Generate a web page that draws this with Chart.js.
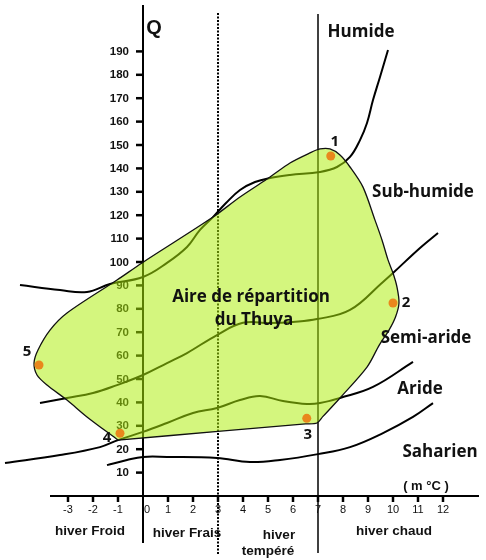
<!DOCTYPE html>
<html>
<head>
<meta charset="utf-8">
<script src="https://cdn.jsdelivr.net/npm/chart.js@4/dist/chart.umd.min.js"></script>
<style>
  html, body { margin: 0; padding: 0; background: #fff; overflow: hidden; }
  #wrap { width: 486px; height: 560px; position: relative; }
</style>
</head>
<body>
<div id="wrap"><canvas id="c"></canvas></div>
<script>
// ---- DATA (m in °C, Q = Emberger quotient) ----
const xTicks = [-3,-2,-1,0,1,2,3,4,5,6,7,8,9,10,11,12];
const yTicks = [10,20,30,40,50,60,70,80,90,100,110,120,130,140,150,160,170,180,190];

// Humide / Sub-humide limit
const curveHumide = [[-4.92,90.2],[-3.32,88.0],[-2.24,87.2],[-1.32,90.6],[0,93.6],[0.96,99.6],[1.76,106.4],[2.28,113.7],[2.8,119.2],[3.32,125.2],[3.88,130.8],[4.48,134.2],[5.08,135.9],[5.88,137.2],[7.08,138.5],[7.76,140.6],[8.28,144.9],[8.68,152.1],[8.96,159.4],[9.2,169.2],[9.48,179.1],[9.8,190.6]];
// Sub-humide / Semi-aride limit
const curveSubHumide = [[-4.12,39.7],[-3.04,41.9],[-2.0,44.0],[-1.04,47.4],[0,51.7],[0.96,56.8],[1.76,61.1],[2.96,68.8],[4.0,74.0],[5.08,73.9],[6.0,74.4],[6.96,75.6],[8.28,79.5],[9.6,91.5],[10.0,95.3],[11.08,106.0],[11.8,112.4]];
// Semi-aride / Aride limit
const curveSemiAride = [[-5.52,14.1],[-3.32,17.5],[-1.72,20.9],[-1.0,23.9],[0,27.4],[0.96,31.2],[2.0,35.5],[2.96,37.6],[3.88,41.0],[4.68,42.7],[5.6,40.6],[6.56,39.3],[7.08,39.7],[7.88,41.9],[9.2,46.6],[10.8,57.3]];
// Aride / Saharien limit
const curveAride = [[-1.44,13.2],[-0.64,15.4],[0,16.7],[0.96,16.7],[2.96,16.2],[4.28,14.5],[5.48,15.4],[7.0,17.9],[8.28,20.9],[9.6,26.9],[10.8,33.8],[11.6,39.7]];

// Aire de répartition du Thuya (closed contour)
const thuyaArea = [[-1.0,23.9],[3.0,27.6],[6.5,30.8],[6.96,31.2],[7.19,33.9],[7.88,41.9],[8.96,55.1],[9.45,64.5],[9.84,70.9],[10.1,76.5],[10.24,82.5],[10.16,89.3],[10.0,95.3],[9.8,100.9],[9.56,109.4],[9.28,117.9],[8.8,132.0],[8.28,140.6],[7.88,145.7],[7.48,148.3],[7.08,148.3],[6.68,146.6],[5.88,142.3],[5.08,136.3],[3.88,127.8],[2.8,119.2],[-0.04,99.6],[-1.04,92.3],[-3.04,78.2],[-3.72,70.9],[-4.2,62.4],[-4.36,56.8],[-4.24,51.7],[-3.84,47.4],[-3.04,41.0],[-2.24,33.8],[-1.0,23.9]];

// Stations
const stationLabels = ['1','2','3','4','5'];
const stations = [[7.51,145.3],[10.0,82.5],[6.55,33.2],[-0.92,26.8],[-4.16,56.0]];

const zoneLabels = ['Humide','Sub-humide','Semi-aride','Aride','Saharien'];
const winterLabels = ['hiver Froid','hiver Frais','hiver\ntempéré','hiver chaud'];

const toXY = a => a.map(p => ({x: p[0], y: p[1]}));

const curveStyle = {showLine: true, pointRadius: 0, borderColor: '#000', borderWidth: 2, tension: 0.4, fill: false, order: 3};

const axesPlugin = {
  id: 'emberger',
  beforeDatasetsDraw(chart) {
    const {ctx, scales: {x, y}} = chart;
    const X = v => x.getPixelForValue(v), Y = v => y.getPixelForValue(v);
    const seg = (x1, y1, x2, y2) => { ctx.beginPath(); ctx.moveTo(x1, y1); ctx.lineTo(x2, y2); ctx.stroke(); };
    ctx.save();
    ctx.strokeStyle = '#000';
    ctx.fillStyle = '#111';
    // x axis
    ctx.lineWidth = 2;
    seg(X(-3.72), Y(0), X(13.44), Y(0));
    // y axis (m = 0)
    seg(X(0), Y(209.8), X(0), Y(-20.1));
    // m = 7
    ctx.lineWidth = 1.5;
    seg(X(7), Y(206), X(7), Y(-24.4));
    // m = 3 dotted
    ctx.lineWidth = 2;
    ctx.setLineDash([2, 1.5]);
    seg(X(3), Y(206.4), X(3), Y(-25.2));
    ctx.setLineDash([]);
    // y ticks
    ctx.font = 'bold 11.5px "Liberation Sans", Arial, sans-serif';
    ctx.textAlign = 'right';
    ctx.textBaseline = 'middle';
    ctx.lineWidth = 2.5;
    yTicks.forEach(v => {
      seg(X(0) - 7, Y(v), X(0) - 1, Y(v));
      ctx.fillText(String(v), X(0) - 14, Y(v) + 0.5);
    });
    // x ticks
    ctx.font = '11px "Liberation Sans", Arial, sans-serif';
    ctx.textAlign = 'center';
    ctx.lineWidth = 2.5;
    xTicks.forEach(v => {
      if (v !== 0) seg(X(v), Y(0) + 1, X(v), Y(0) + 6);
      ctx.fillText(String(v), X(v) + (v === 0 ? 4 : 0), Y(0) + 14);
    });
    // axis letter
    ctx.font = 'bold 20px "Liberation Sans", Arial, sans-serif';
    ctx.fillText('Q', X(0.44), Y(199.6));
    // winter labels
    ctx.font = 'bold 13.5px "Liberation Sans", Arial, sans-serif';
    ctx.fillText(winterLabels[0], X(-2.12), Y(-15));
    ctx.fillText(winterLabels[1], X(1.76), Y(-15.8));
    const tp = winterLabels[2].split('\n');
    ctx.fillText(tp[0], X(5.44), Y(-16.7));
    ctx.fillText(tp[1], X(5.0), Y(-23.5));
    ctx.fillText(winterLabels[3], X(10.04), Y(-15));
    ctx.font = 'bold 13px "Liberation Sans", Arial, sans-serif';
    ctx.fillText('( m °C )', X(11.32), Y(4.3));
    ctx.restore();
  },
  afterDatasetsDraw(chart) {
    const {ctx, scales: {x, y}} = chart;
    const X = v => x.getPixelForValue(v), Y = v => y.getPixelForValue(v);
    ctx.save();
    ctx.fillStyle = '#111';
    ctx.textAlign = 'center';
    ctx.textBaseline = 'middle';
    ctx.font = 'bold 17px "Open Sans", sans-serif';
    const zonePos = [[8.72,198.3],[11.2,129.9],[11.32,67.5],[11.08,45.7],[11.88,18.8]];
    zoneLabels.forEach((t, i) => ctx.fillText(t, X(zonePos[i][0]), Y(zonePos[i][1])));
    ctx.fillText('Aire de répartition', X(4.32), Y(85));
    ctx.fillText('du Thuya', X(4.44), Y(75.2));
    ctx.font = 'bold 15px "Open Sans", sans-serif';
    const off = [[4,-14],[13,0],[1,16],[-13,4],[-12,-13]];
    stations.forEach((p, i) => ctx.fillText(stationLabels[i], X(p[0]) + off[i][0], Y(p[1]) + off[i][1]));
    ctx.restore();
  }
};

new Chart(document.getElementById('c'), {
  type: 'scatter',
  data: {
    datasets: [
      {data: toXY(stations), pointRadius: 4.5, pointBackgroundColor: '#e9871c', pointBorderWidth: 0, showLine: false, order: 0},
      {data: toXY(thuyaArea), showLine: true, pointRadius: 0, borderColor: '#111', borderWidth: 1.3, tension: 0.3,
       fill: 'shape', backgroundColor: 'rgba(172,238,8,0.52)', order: 1},
      Object.assign({data: toXY(curveHumide)}, curveStyle),
      Object.assign({data: toXY(curveSubHumide)}, curveStyle),
      Object.assign({data: toXY(curveSemiAride)}, curveStyle),
      Object.assign({data: toXY(curveAride)}, curveStyle)
    ]
  },
  options: {
    responsive: true,
    maintainAspectRatio: false,
    animation: false,
    layout: {padding: 0, autoPadding: false},
    plugins: {legend: {display: false}, tooltip: {enabled: false}},
    scales: {
      x: {type: 'linear', display: false, min: -5.72, max: 13.72},
      y: {type: 'linear', display: false, min: -27.35, max: 211.97}
    }
  },
  plugins: [axesPlugin]
});
</script>
</body>
</html>
